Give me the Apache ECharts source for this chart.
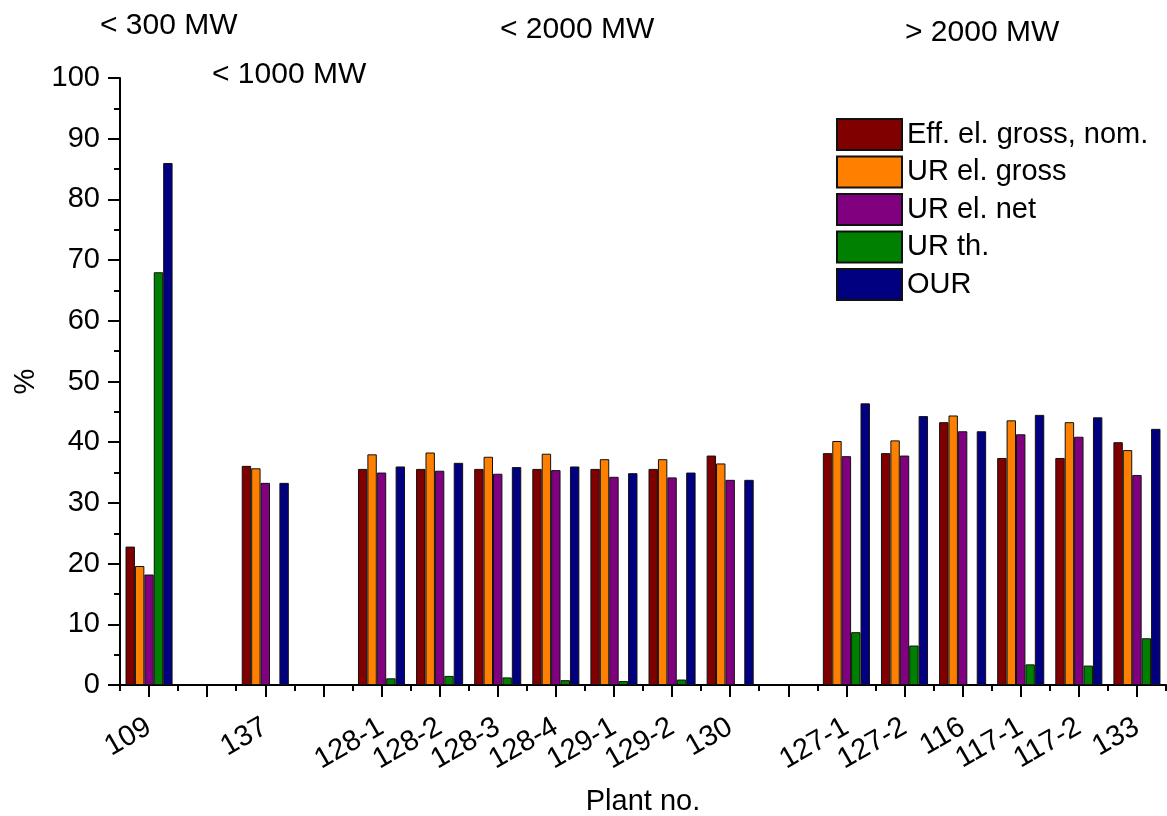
<!DOCTYPE html>
<html>
<head>
<meta charset="utf-8">
<script src="https://cdn.jsdelivr.net/npm/echarts@6/dist/echarts.min.js"></script>
<style>
  html, body { margin: 0; padding: 0; background: #fff; }
  #chart { width: 1167px; height: 816px; }
</style>
</head>
<body>
<div id="chart"></div>
<script>
// Plants grouped by capacity class; blank slots separate the classes
const plants = ['109', ' ', '137', '  ', '128-1', '128-2', '128-3', '128-4', '129-1', '129-2', '130', '   ',
                '127-1', '127-2', '116', '117-1', '117-2', '133'];

// Values in % per plant (null = no bar)
const effElGrossNom = [22.8, null, 36.1, null, 35.6, 35.6, 35.6, 35.6, 35.6, 35.6, 37.8, null, 38.2, 38.2, 43.3, 37.4, 37.4, 40.0];
const urElGross     = [19.6, null, 35.7, null, 38.0, 38.3, 37.6, 38.1, 37.2, 37.2, 36.5, null, 40.2, 40.3, 44.4, 43.6, 43.3, 38.7];
const urElNet       = [18.2, null, 33.3, null, 35.0, 35.3, 34.8, 35.4, 34.3, 34.2, 33.8, null, 37.7, 37.8, 41.8, 41.3, 40.9, 34.6];
const urTh          = [68.0, null, null, null, 1.1, 1.5, 1.25, 0.8, 0.65, 0.9, null, null, 8.7, 6.5, null, 3.4, 3.2, 7.7];
const our           = [86.0, null, 33.3, null, 36.0, 36.6, 35.9, 36.0, 34.9, 35.0, 33.8, null, 46.4, 44.3, 41.8, 44.5, 44.1, 42.2];

const seriesNames = ['Eff. el. gross, nom.', 'UR el. gross', 'UR el. net', 'UR th.', 'OUR'];
const seriesColors = ['#800000', '#ff8000', '#800080', '#008000', '#000080'];
const seriesValues = [effElGrossNom, urElGross, urElNet, urTh, our];

const classLabels = ['< 300 MW', '< 1000 MW', '< 2000 MW', '> 2000 MW'];

const FONT = 'Liberation Sans, Arial, sans-serif';
const chart = echarts.init(document.getElementById('chart'), null, { renderer: 'canvas' });

// capacity-class captions above the plot
const classPos = [[100, 27], [212, 76], [500, 31], [905, 34]];

chart.setOption({
  animation: false,
  backgroundColor: '#fff',
  textStyle: { fontFamily: FONT },
  grid: { left: 120, right: 1, top: 78, bottom: 131, containLabel: false, outerBoundsMode: 'none' },
  legend: {
    orient: 'vertical',
    left: 836,
    top: 118,
    padding: 0,
    itemWidth: 65,
    itemHeight: 31,
    itemGap: 4.5,
    icon: 'rect',
    textStyle: { fontSize: 29, color: '#000', fontFamily: FONT },
    data: seriesNames
  },
  xAxis: [
    {
      type: 'category',
      data: plants,
      name: 'Plant no.',
      nameLocation: 'middle',
      nameGap: 102,
      nameTextStyle: { fontSize: 29, color: '#000', fontFamily: FONT },
      axisLine: { show: true, lineStyle: { color: '#000', width: 2 } },
      axisTick: { show: true, alignWithLabel: true, interval: 0, length: 12, lineStyle: { color: '#000', width: 2 } },
      axisLabel: { interval: 0, rotate: 30, fontSize: 29, color: '#000', margin: 40, fontFamily: FONT },
      splitLine: { show: false }
    },
    {
      type: 'category',
      data: plants,
      position: 'bottom',
      axisLine: { show: false },
      axisTick: { show: true, interval: 0, length: 6, lineStyle: { color: '#000', width: 2 } },
      axisLabel: { show: false },
      splitLine: { show: false }
    }
  ],
  yAxis: {
    type: 'value',
    min: 0,
    max: 100,
    interval: 10,
    name: '%',
    nameLocation: 'middle',
    nameGap: 80,
    nameRotate: 90,
    nameTextStyle: { fontSize: 29, color: '#000', fontFamily: FONT },
    axisLine: { show: true, lineStyle: { color: '#000', width: 2 } },
    axisTick: { show: true, length: 12, lineStyle: { color: '#000', width: 2 } },
    minorTick: { show: true, splitNumber: 2, length: 6, lineStyle: { color: '#000', width: 2 } },
    axisLabel: { fontSize: 29, color: '#000', margin: 20, fontFamily: FONT },
    splitLine: { show: false },
    minorSplitLine: { show: false }
  },
  graphic: classLabels.map((t, i) => ({
    type: 'text',
    left: classPos[i][0],
    top: classPos[i][1] - 16,
    style: { text: t, font: '30px ' + FONT, fill: '#000' }
  })),
  series: seriesNames.map((name, i) => ({
    name,
    type: 'bar',
    xAxisIndex: 0,
    data: seriesValues[i],
    barGap: 0,
    barCategoryGap: '19%',
    itemStyle: { color: seriesColors[i], borderColor: '#111', borderWidth: 1 }
  }))
});
</script>
</body>
</html>
